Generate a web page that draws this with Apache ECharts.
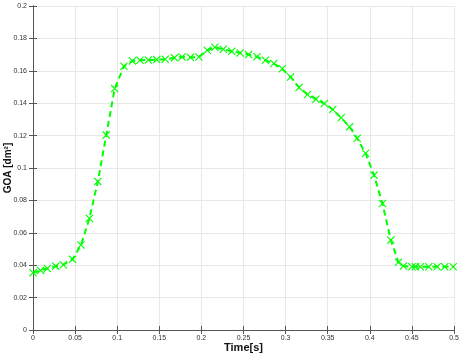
<!DOCTYPE html>
<html>
<head>
<meta charset="utf-8">
<script src="https://cdn.jsdelivr.net/npm/echarts@6/dist/echarts.min.js"></script>
<style>
  html, body { margin: 0; padding: 0; background: #fff; }
  #chart { width: 461px; height: 356px; }
</style>
</head>
<body>
<div id="chart"></div>
<script>
// 时间 (s)
const timeData = [
  0.000, 0.009, 0.017, 0.027, 0.036, 0.047, 0.057, 0.067, 0.077, 0.087,
  0.097, 0.108, 0.118, 0.127, 0.137, 0.147, 0.157, 0.168, 0.177, 0.187,
  0.197, 0.207, 0.216, 0.226, 0.236, 0.246, 0.256, 0.266, 0.276, 0.286,
  0.296, 0.306, 0.316, 0.326, 0.336, 0.346, 0.356, 0.366, 0.376, 0.385,
  0.395, 0.405, 0.415, 0.425, 0.434, 0.440, 0.450, 0.454, 0.460, 0.470,
  0.480, 0.489, 0.499
];
// GOA [dm²]
const goaData = [
  0.0353, 0.0368, 0.0380, 0.0394, 0.0403, 0.0436, 0.0525, 0.0689, 0.0916, 0.1203,
  0.1490, 0.1628, 0.1661, 0.1665, 0.1667, 0.1669, 0.1671, 0.1680, 0.1685, 0.1683,
  0.1685, 0.1727, 0.1745, 0.1733, 0.1720, 0.1710, 0.1700, 0.1687, 0.1665, 0.1645,
  0.1612, 0.1562, 0.1497, 0.1454, 0.1425, 0.1398, 0.1361, 0.1310, 0.1254, 0.1183,
  0.1091, 0.0956, 0.0781, 0.0555, 0.0418, 0.0395, 0.0390, 0.0390, 0.0390, 0.0390,
  0.0390, 0.0390, 0.0390
];

const axisColor = '#555';
const labelStyle = { color: '#333', fontSize: 7, fontFamily: 'Liberation Sans' };
// x 形标记
const crossPath = 'path://M0,1L1,0L5,4L9,0L10,1L6,5L10,9L9,10L5,6L1,10L0,9L4,5Z';

const chart = echarts.init(document.getElementById('chart'));
chart.setOption({
  animation: false,
  grid: { left: 33, right: 7, top: 6, bottom: 26, outerBoundsMode: 'none' },
  xAxis: [
    {
      type: 'value', min: 0, max: 0.5, interval: 0.05,
      name: 'Time[s]', nameLocation: 'middle', nameGap: 12, nameMoveOverlap: false,
      nameTextStyle: { color: '#111', fontSize: 11, fontWeight: 'bold', fontFamily: 'Liberation Sans' },
      axisLine: { lineStyle: { color: axisColor, width: 1 } },
      axisTick: { inside: true, length: 4, lineStyle: { color: axisColor } },
      axisLabel: Object.assign({ margin: 5 }, labelStyle),
      splitLine: { show: true, lineStyle: { color: '#e8e8e8', width: 1 } }
    },
    {
      type: 'value', position: 'top', min: 0, max: 0.5, interval: 0.05,
      axisLine: { lineStyle: { color: axisColor, width: 1 } },
      axisTick: { inside: true, length: 4, lineStyle: { color: axisColor } },
      axisLabel: { show: false },
      splitLine: { show: false }
    }
  ],
  yAxis: [
    {
      type: 'value', min: 0, max: 0.2, interval: 0.02,
      name: 'GOA [dm²]', nameLocation: 'middle', nameGap: 20, nameMoveOverlap: false,
      nameTextStyle: { color: '#111', fontSize: 10, fontWeight: 'bold', fontFamily: 'Liberation Sans' },
      axisLine: { show: true, lineStyle: { color: axisColor, width: 1 } },
      axisTick: { show: true, inside: true, length: 4, lineStyle: { color: axisColor } },
      axisLabel: Object.assign({ margin: 6 }, labelStyle),
      splitLine: { show: true, lineStyle: { color: '#e8e8e8', width: 1 } }
    },
    {
      type: 'value', position: 'right', min: 0, max: 0.2, interval: 0.02,
      axisLine: { show: true, lineStyle: { color: axisColor, width: 1 } },
      axisTick: { show: true, inside: true, length: 4, lineStyle: { color: axisColor } },
      axisLabel: { show: false },
      splitLine: { show: false }
    }
  ],
  series: [
    {
      type: 'line',
      data: timeData.map((t, i) => [t, goaData[i]]),
      lineStyle: { color: '#00ff00', width: 2, type: [6, 4] },
      symbol: crossPath,
      symbolSize: 8,
      showAllSymbol: true,
      itemStyle: { color: '#00ff00' },
      clip: false
    }
  ]
});
</script>
</body>
</html>
